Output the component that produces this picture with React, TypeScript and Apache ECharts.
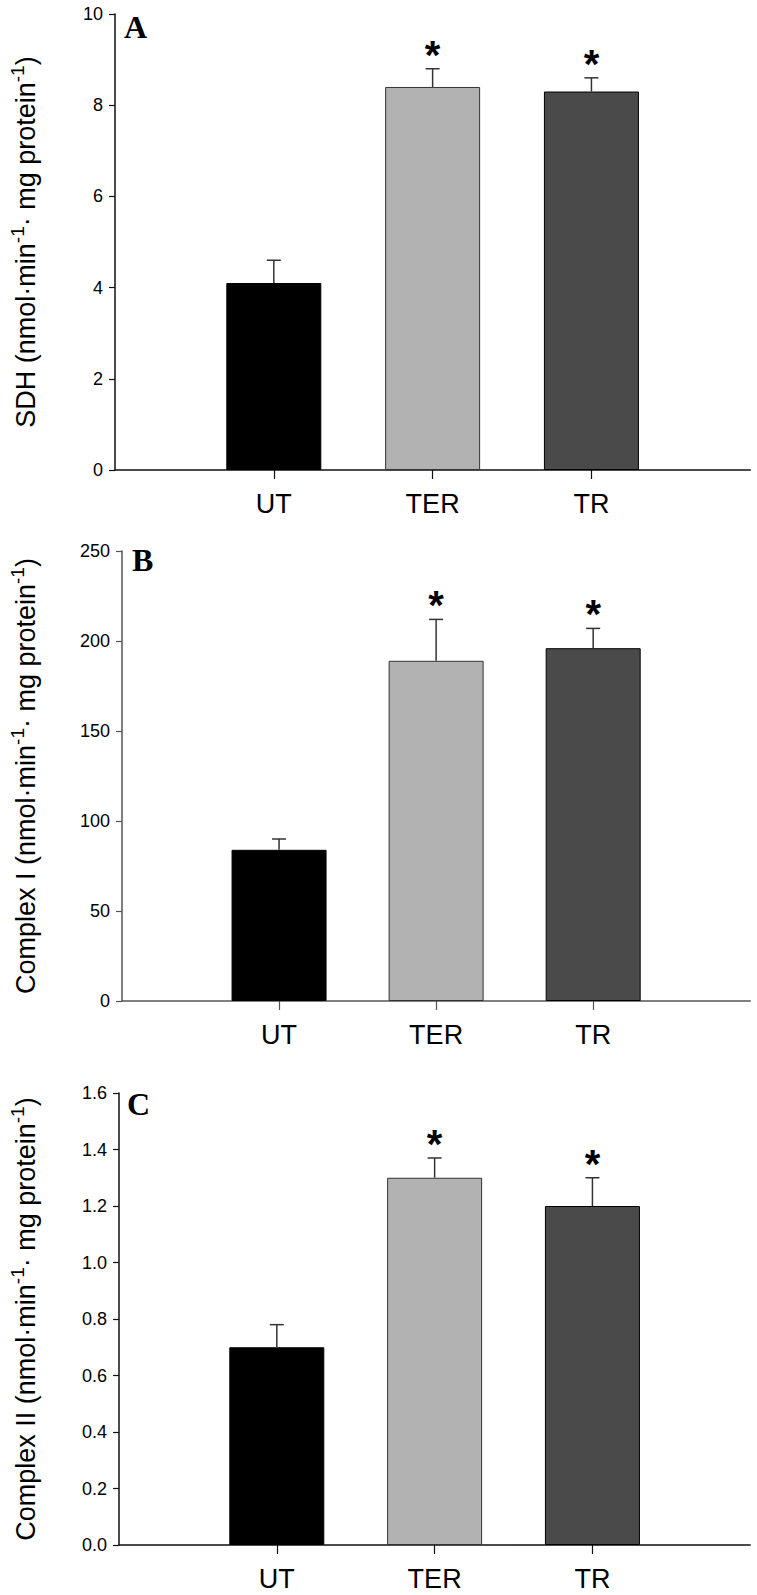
import React, { useEffect, useRef } from "react";
import * as echarts from "echarts";

// ---- data ----
const categories = ["UT", "TER", "TR"];
const barColors = ["#000000", "#b2b2b2", "#4a4a4a"];
const significant = [false, true, true];

const sdhMean = [4.1, 8.4, 8.3];
const sdhSE = [0.5, 0.4, 0.3];
const sdhTicks = [0, 2, 4, 6, 8, 10];

const complex1Mean = [84, 189, 196];
const complex1SE = [6, 23, 11];
const complex1Ticks = [0, 50, 100, 150, 200, 250];

const complex2Mean = [0.7, 1.3, 1.2];
const complex2SE = [0.08, 0.07, 0.1];
const complex2Ticks = [0, 0.2, 0.4, 0.6, 0.8, 1.0, 1.2, 1.4, 1.6];

const panelLetters = ["A", "B", "C"];
const panelTitles = ["SDH", "Complex I", "Complex II"];

// padded category list: empty slot on either side
const paddedCats = ["", ...categories, " "];

const panels = [
  { mean: sdhMean, se: sdhSE, ticks: sdhTicks, decimals: 0, grid: { left: 113, top: 14, width: 641, height: 456 }, gap: 71, axisColor: "#111" },
  { mean: complex1Mean, se: complex1SE, ticks: complex1Ticks, decimals: 0, grid: { left: 120, top: 551, width: 634, height: 450 }, gap: 78, axisColor: "#555" },
  { mean: complex2Mean, se: complex2SE, ticks: complex2Ticks, decimals: 1, grid: { left: 117, top: 1093, width: 637, height: 452 }, gap: 75, axisColor: "#111" },
];

export default function App() {
  const ref = useRef<HTMLDivElement>(null);

  useEffect(() => {
    if (!ref.current) return;
    const chart = echarts.init(ref.current, null, { renderer: "svg" });

    const grids: any[] = [];
    const xAxes: any[] = [];
    const yAxes: any[] = [];
    const series: any[] = [];
    const graphics: any[] = [];

    panels.forEach((p, i) => {
      grids.push({ ...p.grid, containLabel: false });
      xAxes.push({
        type: "category",
        gridIndex: i,
        data: paddedCats,
        boundaryGap: false,
        axisLine: { lineStyle: { color: p.axisColor, width: 1.5 } },
        axisTick: {
          show: true,
          length: 9,
          lineStyle: { color: p.axisColor, width: 1.2 },
          interval: (idx: number) => idx >= 1 && idx <= categories.length,
        },
        axisLabel: {
          interval: 0,
          margin: 20,
          fontSize: 27,
          fontFamily: "'Liberation Sans Narrow', 'Arial Narrow', Arial, sans-serif",
          color: "#000",
        },
        splitLine: { show: false },
      });
      const tk = p.ticks;
      yAxes.push({
        type: "value",
        gridIndex: i,
        min: tk[0],
        max: tk[tk.length - 1],
        interval: tk[1] - tk[0],
        name:
          `{a|${panelTitles[i]} (nmol·min}{s|-1}{a|· mg protein}{s|-1}{a|)}`,
        nameLocation: "middle",
        nameRotate: 90,
        nameGap: p.gap,
        nameTextStyle: {
          rich: {
            a: { fontSize: 27, fontFamily: "Arial", color: "#000", lineHeight: 36 },
            s: { fontSize: 19, fontFamily: "Arial", color: "#000", verticalAlign: "top" },
          },
        },
        axisLine: { show: true, lineStyle: { color: p.axisColor, width: 1.5 } },
        axisTick: { show: true, length: 6, lineStyle: { color: p.axisColor, width: 1.2 } },
        axisLabel: {
          margin: 12,
          fontSize: 18,
          fontFamily: "Arial",
          color: "#000",
          formatter: (v: number) => v.toFixed(p.decimals),
        },
        splitLine: { show: false },
      });

      const barData: any[] = ["-"];
      p.mean.forEach((m, j) => {
        barData.push({
          value: m,
          itemStyle: { color: barColors[j], borderColor: j === 1 ? "#333" : "#000", borderWidth: 1 },
        });
      });
      barData.push("-");

      series.push({
        type: "bar",
        xAxisIndex: i,
        yAxisIndex: i,
        data: barData,
        barWidth: 95,
        silent: true,
      });

      series.push({
        type: "custom",
        xAxisIndex: i,
        yAxisIndex: i,
        clip: false,
        silent: true,
        z: 5,
        data: categories.map((c, j) => [c, p.mean[j], p.se[j], significant[j] ? 1 : 0]),
        renderItem: (params: any, api: any) => {
          const cat = api.value(0);
          const m = api.value(1);
          const se = api.value(2);
          const sig = api.value(3);
          const base = api.coord([cat, m]);
          const top = api.coord([cat, m + se]);
          const children: any[] = [
            { type: "line", shape: { x1: base[0], y1: base[1], x2: top[0], y2: top[1] }, style: { stroke: "#333", lineWidth: 1.5 } },
            { type: "line", shape: { x1: top[0] - 7, y1: top[1], x2: top[0] + 7, y2: top[1] }, style: { stroke: "#333", lineWidth: 1.5 } },
          ];
          if (sig) {
            children.push({
              type: "text",
              style: {
                text: "*",
                x: top[0],
                y: top[1] - 14,
                font: "bold 40px Arial",
                fill: "#000",
                textAlign: "center",
                textVerticalAlign: "middle",
                align: "center",
                verticalAlign: "middle",
              },
            });
          }
          return { type: "group", children };
        },
      });
    });

    const letterPos = [
      [124, 27],
      [132, 560],
      [127, 1104],
    ];
    panelLetters.forEach((L, i) => {
      graphics.push({
        type: "text",
        left: letterPos[i][0],
        top: letterPos[i][1] - 16,
        style: {
          text: L,
          font: "bold 32px 'Liberation Serif', 'Times New Roman', serif",
          fill: "#000",
        },
      });
    });

    chart.setOption({
      animation: false,
      backgroundColor: "#ffffff",
      grid: grids,
      xAxis: xAxes,
      yAxis: yAxes,
      series,
      graphic: graphics,
    });

    return () => chart.dispose();
  }, []);

  return (
    <div
      ref={ref}
      style={{ position: "absolute", left: 0, top: 0, width: 757, height: 1595 }}
    />
  );
}
